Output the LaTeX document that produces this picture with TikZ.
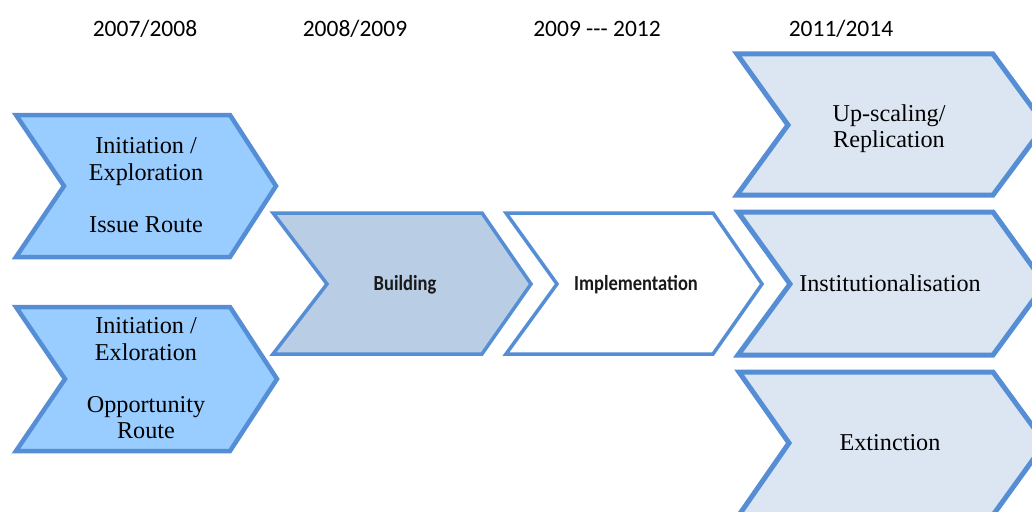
\documentclass[tikz,border=0pt]{standalone}
\usepackage{fontspec}
\setmainfont{Liberation Serif}
\newfontfamily\calfont{Carlito}
\definecolor{bord}{HTML}{558ED5}
\definecolor{lfill}{HTML}{99CCFF}
\definecolor{bfill}{HTML}{B9CDE5}
\definecolor{rfill}{HTML}{DCE6F2}
\begin{document}
\begin{tikzpicture}[x=1pt,y=-1pt,
  chev/.style={draw=bord,line join=miter},
  txt/.style={anchor=base,inner sep=0pt,font=\fontsize{24.2}{26}\selectfont,text=black},
  yr/.style={anchor=base,inner sep=0pt,font=\calfont\fontsize{23.5}{26}\selectfont,text=black},
  cal/.style={anchor=base,inner sep=0pt,font=\calfont\bfseries\fontsize{21.5}{24}\selectfont,text=black!90}]
\useasboundingbox (0,0) rectangle (1032,511);
\clip (0,0) rectangle (1032,511);
\fill[white] (0,0) rectangle (1032,511);
% years
\node[yr] (y1) at (145,37) {2007/2008};
\node[yr] (y2) at (355,37) {2008/2009};
\node[yr] (y3) at (597,37) {2009 --- 2012};
\node[yr] (y4) at (841,37) {2011/2014};
% left chevrons
\draw[chev,fill=lfill,line width=4.5] (16,115) -- (230,115) -- (276,186) -- (230,257) -- (16,257) -- (64,186) -- cycle;
\draw[chev,fill=lfill,line width=4.5] (16,307) -- (230,307) -- (277,379) -- (230,451) -- (16,451) -- (65,379) -- cycle;
% middle chevrons
\draw[chev,fill=bfill,line width=3.5] (273,213) -- (482,213) -- (531,284) -- (482,354) -- (273,354) -- (327,284) -- cycle;
\draw[chev,fill=white,line width=3.5] (506,213) -- (713,213) -- (762,284) -- (713,354) -- (506,354) -- (557,284) -- cycle;
% right chevrons
\draw[chev,fill=rfill,line width=5] (737,54) -- (993,54) -- (1045,125) -- (993,195) -- (737,195) -- (788,125) -- cycle;
\draw[chev,fill=rfill,line width=5] (738,212) -- (993,212) -- (1045,284) -- (993,355) -- (738,355) -- (790,284) -- cycle;
\draw[chev,fill=rfill,line width=5] (739,372) -- (993,372) -- (1045,443) -- (993,515) -- (739,515) -- (789,443) -- cycle;
% texts
\node[txt] (a1) at (146,153) {Initiation /};
\node[txt] (a2) at (146,180) {Exploration};
\node[txt] (a3) at (146,232) {Issue Route};
\node[txt] (b1) at (146,333) {Initiation /};
\node[txt] (b2) at (146,360) {Exloration};
\node[txt] (b3) at (146,412) {Opportunity};
\node[txt] (b4) at (146,438) {Route};
\node[cal] (c1) at (405,290) {\scalebox{0.86}[1]{Building}};
\node[cal] (c2) at (636,290) {\scalebox{0.86}[1]{Implementation}};
\node[txt] (d1) at (889,121) {Up-scaling/};
\node[txt] (d2) at (889,147) {Replication};
\node[txt] (e1) at (890,291) {Institutionalisation};
\node[txt] (f1) at (890,450) {Extinction};
\end{tikzpicture}
\end{document}
